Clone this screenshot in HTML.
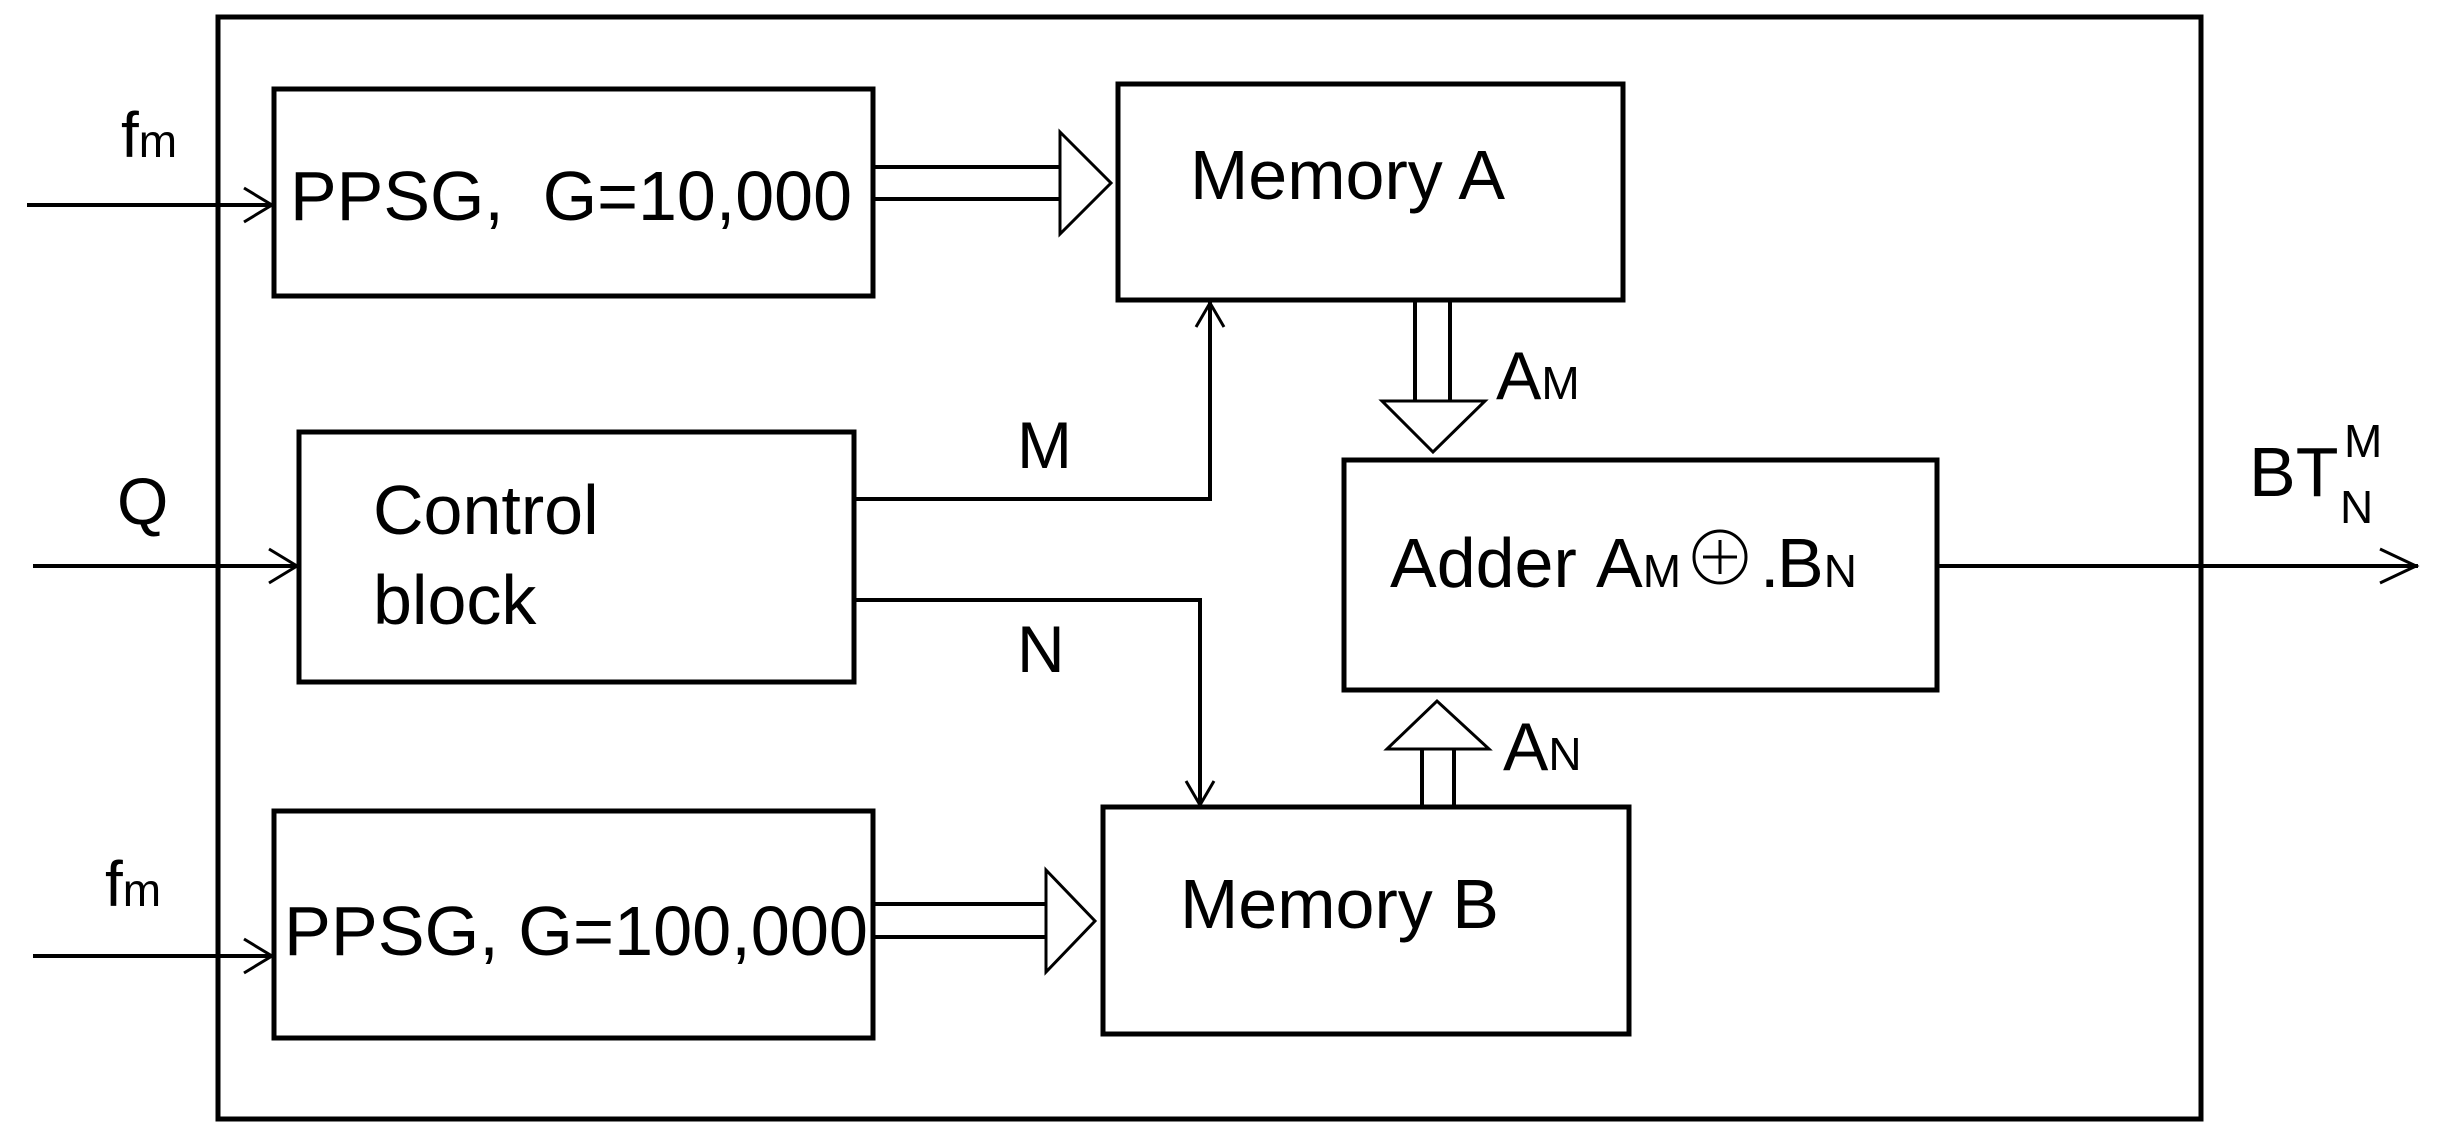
<!DOCTYPE html>
<html><head><meta charset="utf-8"><style>
html,body{margin:0;padding:0;background:#fff;}
svg{display:block;}
text{font-family:"Liberation Sans",Arial,sans-serif;fill:#000;}
</style></head><body>
<svg width="2444" height="1148" viewBox="0 0 2444 1148" xmlns="http://www.w3.org/2000/svg">
<g fill="none" stroke="#000" stroke-width="5">
<rect x="218" y="17" width="1983" height="1102"/>
<rect x="274" y="89" width="599" height="207"/>
<rect x="1118" y="84" width="505" height="216"/>
<rect x="299" y="432" width="555" height="250"/>
<rect x="274" y="811" width="599" height="227"/>
<rect x="1103" y="807" width="526" height="227"/>
<rect x="1344" y="460" width="593" height="230"/>
</g>
<g fill="none" stroke="#000" stroke-width="4">
<line x1="27" y1="205" x2="274" y2="205"/><polyline points="244,188 272,205 244,222" stroke-width="3"/>
<line x1="33" y1="566" x2="299" y2="566"/><polyline points="269,549 297,566 269,583" stroke-width="3"/>
<line x1="33" y1="956" x2="274" y2="956"/><polyline points="244,939 272,956 244,973" stroke-width="3"/>
<line x1="873" y1="167" x2="1060" y2="167"/><line x1="873" y1="199" x2="1060" y2="199"/>
<polygon points="1060,132 1111,183 1060,234" stroke-width="3"/>
<line x1="873" y1="904" x2="1046" y2="904"/><line x1="873" y1="937" x2="1046" y2="937"/>
<polygon points="1046,870 1095,921 1046,972" stroke-width="3"/>
<line x1="1415" y1="300" x2="1415" y2="401"/><line x1="1450" y1="300" x2="1450" y2="401"/>
<polygon points="1382,401 1485,401 1433,452" stroke-width="3"/>
<line x1="1422" y1="749" x2="1422" y2="807"/><line x1="1454" y1="749" x2="1454" y2="807"/>
<polygon points="1387,749 1489,749 1437,701" stroke-width="3"/>
<polyline points="854,499 1210,499 1210,302"/><polyline points="1196,327 1210,303 1224,327" stroke-width="3"/>
<polyline points="854,600 1200,600 1200,805"/><polyline points="1186,781 1200,805 1214,781" stroke-width="3"/>
<line x1="1937" y1="566" x2="2418" y2="566"/><polyline points="2380,549 2416,566 2380,583" stroke-width="3"/>
<circle cx="1720" cy="557" r="26" stroke-width="3"/>
<line x1="1703" y1="557" x2="1737" y2="557" stroke-width="3"/><line x1="1720" y1="540" x2="1720" y2="574" stroke-width="3"/>
</g>
<g font-size="70">
<text x="121" y="157" font-size="64">f<tspan font-size="46">m</tspan></text>
<text x="117" y="524" font-size="66">Q</text>
<text x="105" y="906" font-size="64">f<tspan font-size="46">m</tspan></text>
<text x="290" y="220" textLength="562" lengthAdjust="spacingAndGlyphs" xml:space="preserve">PPSG,  G=10,000</text>
<text x="284" y="955" textLength="584" lengthAdjust="spacingAndGlyphs">PPSG, G=100,000</text>
<text x="1190" y="199">Memory A</text>
<text x="1180" y="928">Memory B</text>
<text x="373" y="534">Control</text>
<text x="373" y="624">block</text>
<text x="1017" y="468" font-size="66">M</text>
<text x="1017" y="672" font-size="66">N</text>
<text x="1496" y="399" font-size="68">A<tspan font-size="46">M</tspan></text>
<text x="1503" y="770" font-size="68">A<tspan font-size="46">N</tspan></text>
<text x="1390" y="587">Adder</text>
<text x="1596" y="587">A<tspan font-size="46">M</tspan></text>
<text x="1760" y="587">.</text>
<text x="1777" y="587">B<tspan font-size="46">N</tspan></text>
<text x="2249" y="496">BT</text>
<text x="2344" y="457" font-size="46">M</text>
<text x="2340" y="523" font-size="46">N</text>
</g>
</svg>
</body></html>
